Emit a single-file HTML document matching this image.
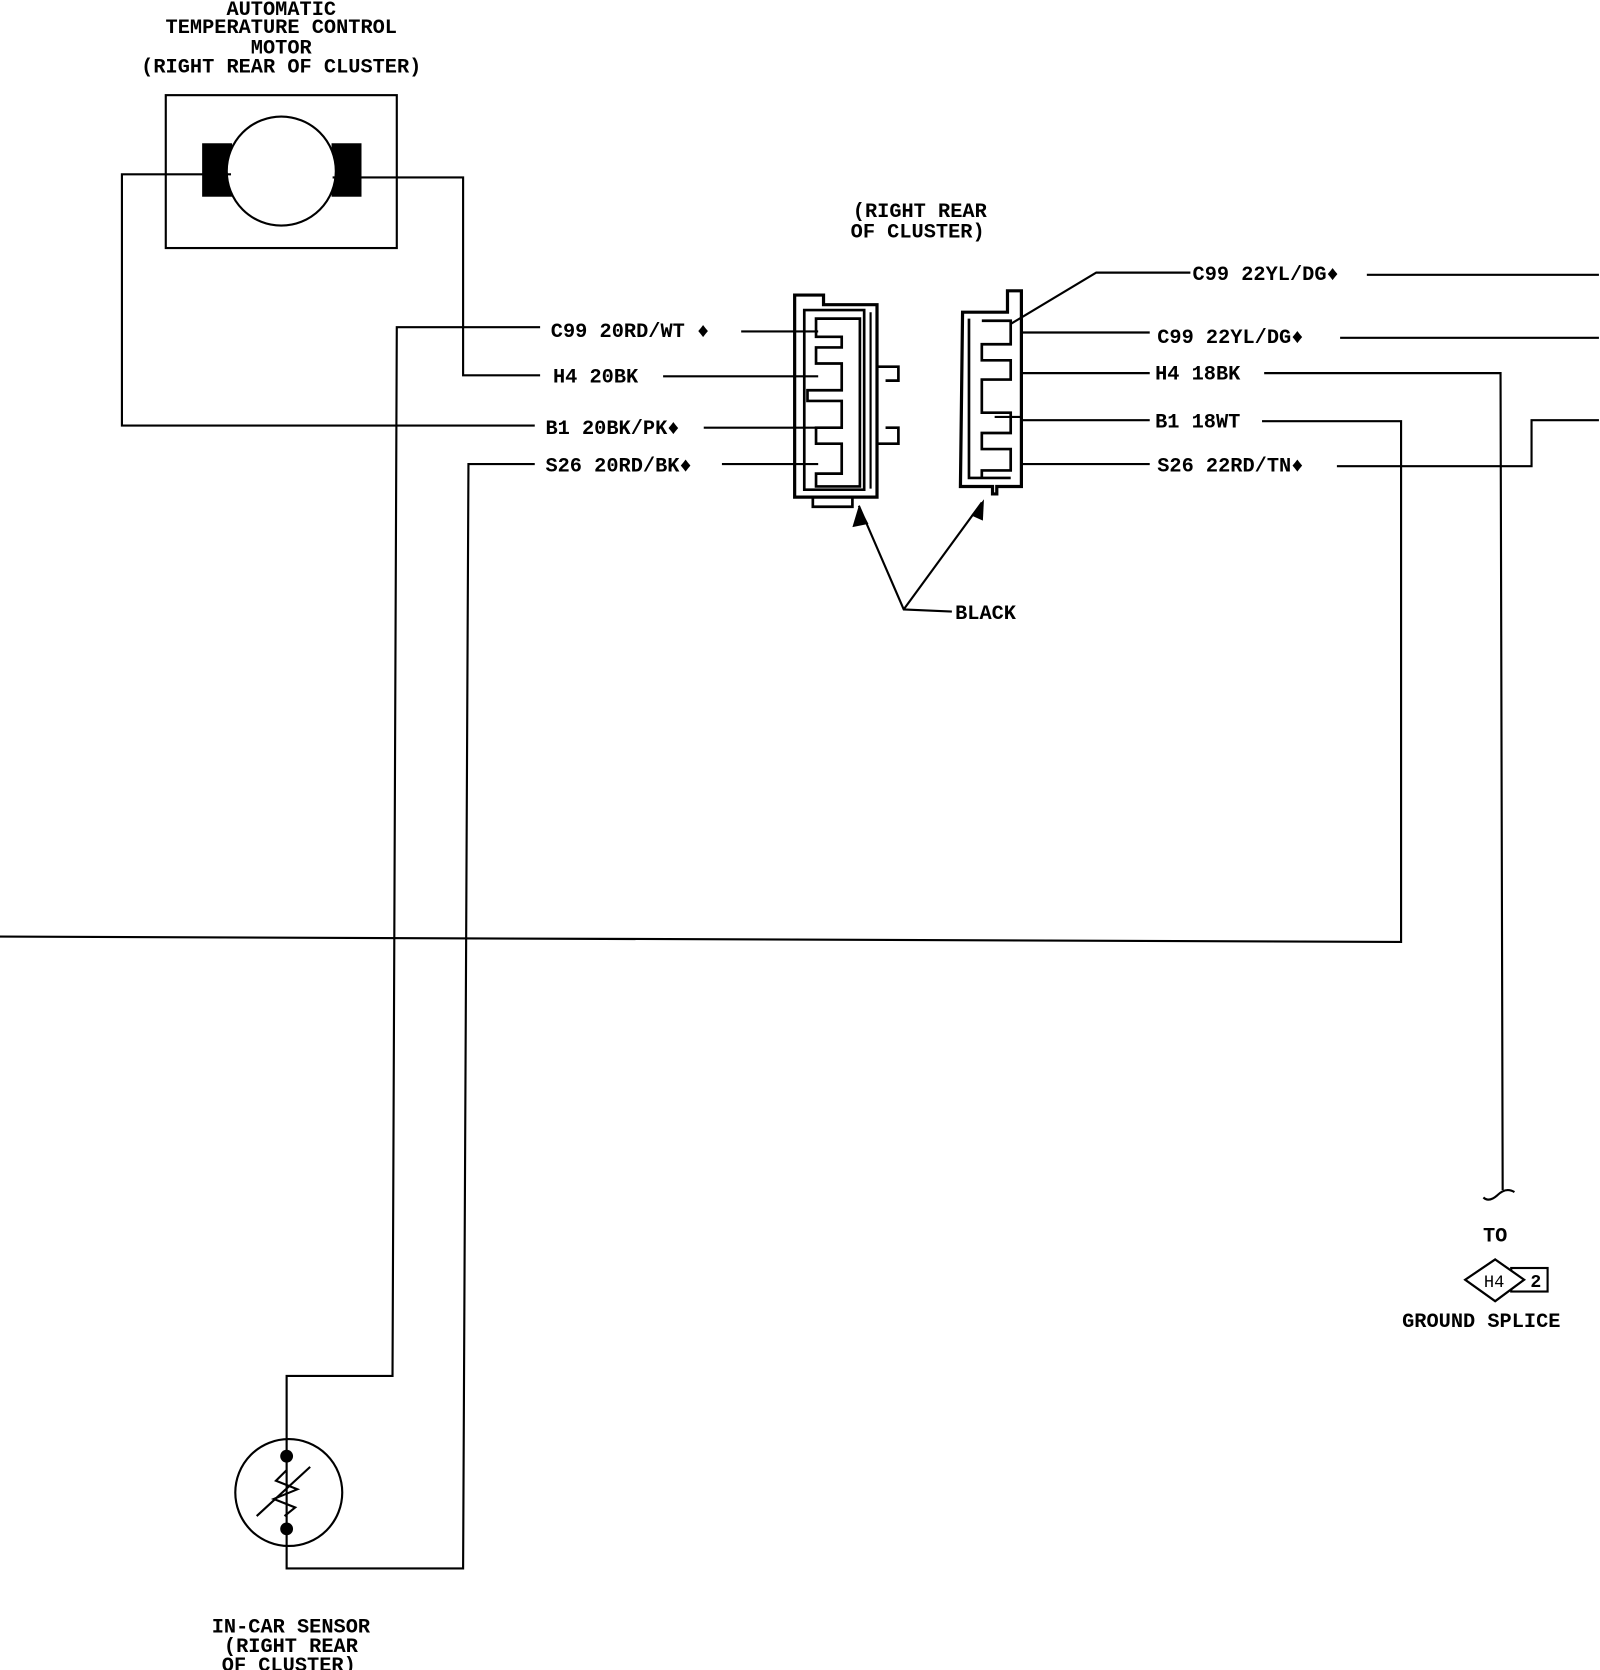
<!DOCTYPE html>
<html><head><meta charset="utf-8"><style>
html,body{margin:0;padding:0;background:#fff;width:1600px;height:1670px;overflow:hidden}
svg{display:block}
text{font-family:"Liberation Mono",monospace;font-size:19px;fill:#000;font-weight:bold}
</style></head><body>
<svg width="1600" height="1670" viewBox="0 0 1496 1562" preserveAspectRatio="none">
<g fill="none" stroke="#000" stroke-width="2">
<rect x="155" y="89" width="216" height="143"/>
<rect x="190" y="135" width="26" height="48" fill="#000"/>
<rect x="311" y="135" width="26" height="48" fill="#000"/>
<circle cx="263" cy="160" r="51" fill="#fff"/>
<polyline points="216,163 114,163 114,398 500,398"/>
<polyline points="311,166 433,166 433,351 505,351"/>
<polyline points="505,306 371,306 367,1287 268,1287 268,1358"/>
<polyline points="500,434 438,434 433,1467 268,1467 268,1430"/>
<circle cx="270" cy="1396" r="50"/>
<line x1="268" y1="1360" x2="268" y2="1432"/>
<polyline points="268,1375 258,1385 278,1393 256,1402 276,1410 266,1418"/>
<line x1="290" y1="1372" x2="240" y2="1418"/>
<line x1="693" y1="310" x2="765" y2="310"/>
<line x1="620" y1="352" x2="765" y2="352"/>
<line x1="658" y1="400" x2="765" y2="400"/>
<line x1="675" y1="434" x2="765" y2="434"/>
<path d="M743,276 H770 V285 H820 V465 H743 Z" stroke-width="3"/>
<path d="M752,290 H808 V458 H752 Z" stroke-width="2.5"/>
<path d="M814,292 V457" />
<path d="M763,298 H804 V455 H763 V443 H787 V415 H763 V400 H787 V375 H755 V365 H787 V340 H763 V325 H787 V315 H763 Z" stroke-width="2.5"/>
<path d="M760,465 V474 H797 V465" stroke-width="2.5"/>
<path d="M820,343 H840 V356 H828" stroke-width="2.5"/>
<path d="M820,415 H840 V400 H828" stroke-width="2.5"/>
<path d="M900,292 H942 V272 H955 V455 H932 V462 H928 V455 H898 Z" stroke-width="3"/>
<path d="M906,298 V447 H945" stroke-width="2.5"/>
<path d="M918,300 H945 V322 H918 V337 H945 V355 H918 V386 H945 V405 H918 V420 H945 V440 H918 V447" stroke-width="2.5"/>
<line x1="930" y1="390" x2="955" y2="390"/>
<polyline points="945,303 1025,255 1113,255"/>
<line x1="1278" y1="257" x2="1495" y2="257"/>
<line x1="955" y1="311" x2="1075" y2="311"/>
<line x1="1253" y1="316" x2="1495" y2="316"/>
<line x1="955" y1="349" x2="1075" y2="349"/>
<polyline points="1182,349 1403,349 1405,1113"/>
<path d="M1387,1120 Q1392,1125 1400,1118 Q1408,1110 1416,1115"/>
<line x1="955" y1="393" x2="1075" y2="393"/>
<polyline points="1180,394 1310,394 1310,881 0,876"/>
<line x1="955" y1="434" x2="1075" y2="434"/>
<polyline points="1250,436 1432,436 1432,393 1495,393"/>
<polyline points="803,473 845,570 890,572"/>
<line x1="845" y1="570" x2="918" y2="470"/>
<path d="M1398,1178 L1425,1197 L1398,1217 L1370,1197 Z"/>
<rect x="1413" y="1186" width="34" height="22"/>
<path d="M1398,1178 L1425,1197 L1398,1217 L1370,1197 Z" fill="#fff"/>
</g>
<circle cx="268" cy="1362" r="6" fill="#000"/>
<circle cx="268" cy="1430" r="6" fill="#000"/>
<polygon points="803,473 797,493 812,490" fill="#000"/>
<polygon points="920,467 908,482 919,487" fill="#000"/>
<g text-anchor="middle">
<text x="263" y="14">AUTOMATIC</text>
<text x="263" y="31">TEMPERATURE CONTROL</text>
<text x="263" y="50">MOTOR</text>
<text x="263" y="68">(RIGHT REAR OF CLUSTER)</text>
<text x="860" y="203">(RIGHT REAR</text>
<text x="858" y="222">OF CLUSTER)</text>
<text x="272" y="1527">IN-CAR SENSOR</text>
<text x="272" y="1545">(RIGHT REAR</text>
<text x="270" y="1563">OF CLUSTER)</text>
<text x="1398" y="1161">TO</text>
<text x="1385" y="1241">GROUND SPLICE</text>
<text x="1397" y="1204" style="font-size:16px;font-weight:normal">H4</text>
<text x="1436" y="1204" style="font-size:17px">2</text>
</g>
<text x="515" y="315">C99 20RD/WT ♦</text>
<text x="517" y="358">H4 20BK</text>
<text x="510" y="406">B1 20BK/PK♦</text>
<text x="510" y="441">S26 20RD/BK♦</text>
<text x="1115" y="262">C99 22YL/DG♦</text>
<text x="1082" y="321">C99 22YL/DG♦</text>
<text x="1080" y="355">H4 18BK</text>
<text x="1080" y="400">B1 18WT</text>
<text x="1082" y="441">S26 22RD/TN♦</text>
<text x="893" y="579">BLACK</text>
</svg>
</body></html>
